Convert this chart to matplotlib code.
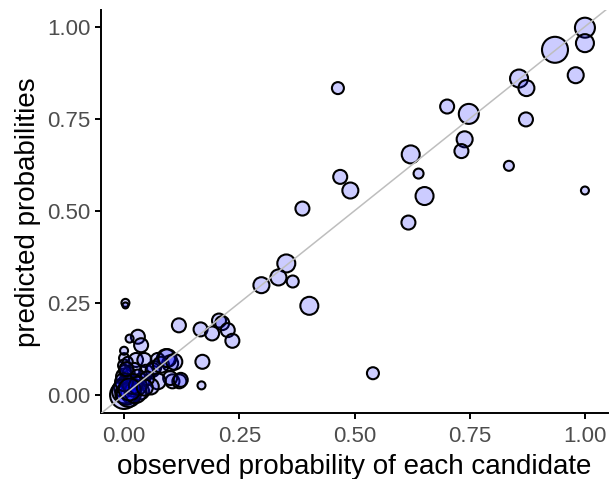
import matplotlib
matplotlib.use("Agg")
import matplotlib.pyplot as plt
import numpy as np

plt.rcParams["font.family"] = ["Liberation Sans", "DejaVu Sans"]

# observed probability, predicted probability, weight (number of voters -> point area)
observed = [
    1.000, 1.000, 0.935, 0.980, 0.857, 0.873, 0.872, 0.464, 0.701, 0.748,
    0.739, 0.732, 0.622, 0.639, 0.652, 0.835, 1.000, 0.469, 0.491, 0.387,
    0.617, 0.352, 0.335, 0.366, 0.298, 0.402, 0.540,
    0.119, 0.166, 0.206, 0.213, 0.191, 0.225, 0.235, 0.170, 0.168, 0.105,
    0.120, 0.091, 0.100, 0.073, 0.065, 0.003, 0.003, 0.030, 0.037, 0.012,
    0.000, 0.000, 0.026, 0.044, 0.048, 0.022, 0.062, 0.080, 0.094, 0.109,
    0.100, 0.123, 0.073, 0.004, 0.037, 0.000, 0.015, 0.037, 0.058, 0.000,
    0.000, 0.010, 0.000, 0.005, 0.020, 0.030, 0.050, 0.000, 0.008, 0.002,
    0.010, 0.025, 0.018, 0.000, 0.030, 0.012, 0.045, 0.005,
]
predicted = [
    0.997, 0.955, 0.937, 0.868, 0.859, 0.833, 0.748, 0.833, 0.783, 0.763,
    0.694, 0.662, 0.653, 0.601, 0.540, 0.622, 0.555, 0.592, 0.555, 0.506,
    0.468, 0.357, 0.319, 0.308, 0.298, 0.242, 0.059,
    0.189, 0.178, 0.202, 0.195, 0.167, 0.176, 0.147, 0.090, 0.026, 0.037,
    0.037, 0.100, 0.086, 0.095, 0.073, 0.250, 0.243, 0.158, 0.135, 0.153,
    0.100, 0.080, 0.095, 0.095, 0.063, 0.068, 0.068, 0.082, 0.100, 0.090,
    0.046, 0.041, 0.037, 0.037, 0.037, 0.000, 0.005, 0.010, 0.023, 0.020,
    0.050, 0.060, 0.010, 0.003, 0.020, 0.050, 0.045, 0.120, 0.090, 0.065,
    0.000, 0.008, 0.030, 0.035, 0.025, 0.015, 0.020, 0.070,
]
weight = [
    100, 81, 169, 64, 81, 64, 49, 36, 49, 100,
    64, 49, 81, 25, 81, 25, 16, 49, 64, 49,
    49, 81, 64, 36, 64, 81, 36,
    49, 49, 49, 49, 49, 49, 49, 49, 16, 49,
    49, 81, 64, 49, 49, 16, 9, 49, 49, 16,
    25, 36, 49, 49, 49, 49, 49, 64, 81, 64,
    49, 49, 64, 49, 64, 196, 100, 64, 64, 100,
    64, 36, 144, 121, 81, 49, 49, 16, 25, 36,
    144, 121, 100, 81, 81, 121, 64, 49,
]

fig = plt.figure(figsize=(6.1, 4.79), dpi=100)
ax = fig.add_axes([0.1656, 0.1370, 0.8311, 0.8421])

sizes = np.array(weight) * 2.07
ax.scatter(observed, predicted, s=sizes, facecolor=(0, 0, 1, 0.2),
           edgecolor="black", linewidth=1.5, zorder=2)

xlim = (-0.05, 1.05)
ax.plot(xlim, xlim, color="#BEBEBE", linewidth=1.1, zorder=3)
ax.set_xlim(xlim)
ax.set_ylim(-0.05, 1.045)

ticks = [0.0, 0.25, 0.5, 0.75, 1.0]
ax.set_xticks(ticks)
ax.set_yticks(ticks)
ax.set_xticklabels(["0.00", "0.25", "0.50", "0.75", "1.00"])
ax.set_yticklabels(["0.00", "0.25", "0.50", "0.75", "1.00"])
ax.tick_params(labelsize=16, labelcolor="#4D4D4D", length=4.3, width=1.4, color="black")
ax.tick_params(axis="x", pad=5)
ax.tick_params(axis="y", pad=3.5)

for side in ["top", "right"]:
    ax.spines[side].set_visible(False)
for side in ["left", "bottom"]:
    ax.spines[side].set_linewidth(1.4)

ax.set_xlabel("observed probability of each candidate", fontsize=20, labelpad=5)
ax.set_ylabel("predicted probabilities", fontsize=20, labelpad=4)

fig.savefig("out.png", dpi=100)
